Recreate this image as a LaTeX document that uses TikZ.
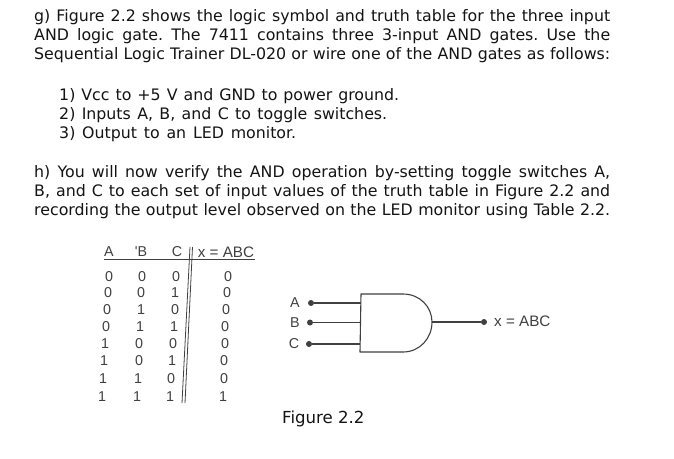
\documentclass[tikz,border=0pt]{standalone}
\usepackage{fontspec}
\setmainfont{DejaVu Sans}
\newfontfamily\tabfont{Liberation Sans}
\definecolor{ink}{gray}{0.08}
\definecolor{scan}{gray}{0.25}
\newcommand{\fitline}[2]{\makebox[#1pt][s]{\frenchspacing #2}}
\tikzset{
  para/.style={anchor=base west,inner sep=0pt,text=ink,font=\fontsize{15.8}{18}\selectfont},
  cell/.style={inner sep=0pt,text=scan,font=\tabfont\fontsize{14.3}{16}\selectfont},
  eqn/.style={cell,font=\tabfont\fontsize{15.2}{16}\selectfont},
  wire/.style={draw=scan,line width=1.4pt},
  pin/.style={circle,fill=scan,inner sep=0pt,minimum size=6pt},
}
\begin{document}
\begin{tikzpicture}[x=1pt,y=-1pt]
\useasboundingbox (0,0) rectangle (674,458);
\fill[white] (0,0) rectangle (674,458);
\node[para] (t1) at (34,21) {\fitline{576}{g) Figure 2.2 shows the logic symbol and truth table for the three input}};
\node[para] (t2) at (34,40) {\fitline{576}{AND logic gate. The 7411 contains three 3-input AND gates. Use the}};
\node[para] (t3) at (34,59) {\fitline{576}{Sequential Logic Trainer DL-020 or wire one of the AND gates as follows:}};
\node[para] (l1) at (59,100) {\fitline{340}{1) Vcc to +5 V and GND to power ground.}};
\node[para] (l2) at (59,119) {\fitline{328}{2) Inputs A, B, and C to toggle switches.}};
\node[para] (l3) at (59,138) {\fitline{237}{3) Output to an LED monitor.}};
\node[para] (h1) at (34,177) {\fitline{576}{h) You will now verify the AND operation by-setting toggle switches A,}};
\node[para] (h2) at (34,196) {\fitline{576}{B, and C to each set of input values of the truth table in Figure 2.2 and}};
\node[para] (h3) at (34,215) {\fitline{576}{recording the output level observed on the LED monitor using Table 2.2.}};
% table
\node[cell] (ha) at (109,252) {A};
\node[cell] (hb) at (141,252) {'B};
\node[cell] (hc) at (177,252) {C};
\node[eqn] (hx) at (226,252) {x = ABC};
\coordinate (rs) at (104,259);
\coordinate (re) at (255,259);
\draw[scan,line width=1pt] (rs) -- (re);
\coordinate (v1a) at (190,247);
\coordinate (v1b) at (182,403);
\coordinate (v2a) at (192.5,247);
\coordinate (v2b) at (185,403);
\draw[scan,line width=.8pt] (v1a) -- (v1b);
\draw[scan,line width=.8pt] (v2a) -- (v2b);
\foreach \n/\y/\xa/\xb/\xc/\xd/\va/\vb/\vc/\vd in {
  1/277/109/142/176/228/0/0/0/0,
  2/293/108/141/175/227/0/0/1/0,
  3/310/107/141/175/226/0/1/0/0,
  4/327/106/140/174/225/0/1/1/0,
  5/344/105/139/173/225/1/0/0/0,
  6/361/104/139/172/224/1/0/1/0,
  7/379/103/138/171/224/1/1/0/0,
  8/397/102/137/170/223/1/1/1/1}{
  \node[cell] (a\n) at (\xa,\y) {\va};
  \node[cell] (b\n) at (\xb,\y) {\vb};
  \node[cell] (c\n) at (\xc,\y) {\vc};
  \node[cell] (x\n) at (\xd,\y) {\vd};
}
% gate
\coordinate (g1) at (361,294);
\coordinate (g2) at (403,294);
\coordinate (g3) at (432,322);
\coordinate (g4) at (403,352);
\coordinate (g5) at (360,352);
\draw[scan,line width=1.1pt,line join=round] (g1) -- (g2) .. controls (420,294) and (432,307) .. (g3) .. controls (432,338) and (420,352) .. (g4) -- (g5) -- cycle;
\node[cell] (la) at (295,303) {A};
\node[cell] (lb) at (295,323) {B};
\node[cell] (lc) at (294,344) {C};
\node[pin] (pa) at (311,303) {};
\node[pin] (pb) at (310,322.5) {};
\node[pin] (pc) at (309,344) {};
\node[pin] (po) at (484,322) {};
\coordinate (ia) at (361,303);
\coordinate (ib) at (361,322.5);
\coordinate (ic) at (360,344);
\draw[wire] (pa) -- (ia);
\draw[wire] (pb) -- (ib);
\draw[wire] (pc) -- (ic);
\draw[wire] (g3) -- (po);
\node[eqn,anchor=west] (lx) at (494,321) {x = ABC};
\node[para,font=\fontsize{16.6}{18}\selectfont] (fig) at (282,423) {Figure 2.2};
\end{tikzpicture}
\end{document}
